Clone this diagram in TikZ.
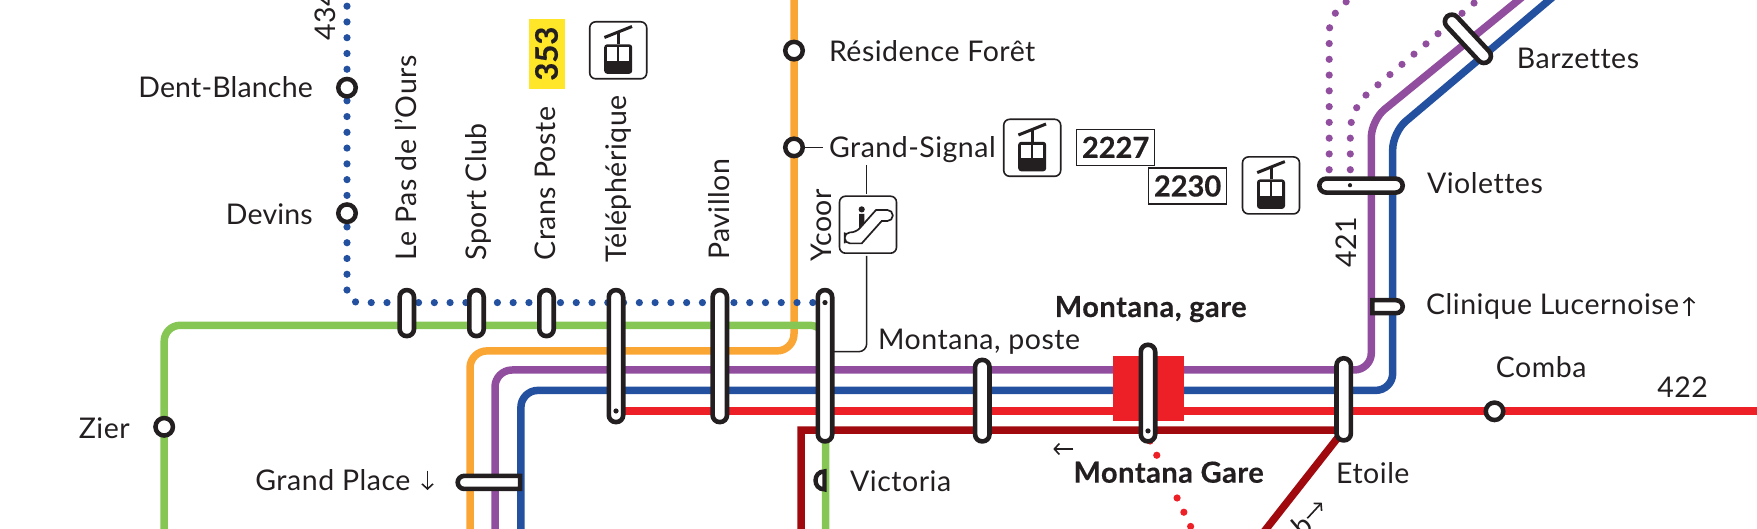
\documentclass[tikz,border=0pt]{standalone}
\usepackage{fontspec}
\setmainfont{Lato}
\newfontfamily\lab{Lato}[LetterSpace=1.8,Ligatures=NoCommon,BoldFeatures={FakeBold=0.3}]
\newfontfamily\labt{Lato}[LetterSpace=0.6,Ligatures=NoCommon]
\newfontfamily\tagf{Lato}[BoldFeatures={FakeBold=0.5}]
\usetikzlibrary{shapes.misc,arrows.meta}
\definecolor{cink}{HTML}{231F20}
\definecolor{corange}{HTML}{FAA634}
\definecolor{cgreen}{HTML}{85C655}
\definecolor{cpurple}{HTML}{914E9E}
\definecolor{cblue}{HTML}{2450A0}
\definecolor{cred}{HTML}{ED2027}
\definecolor{cdark}{HTML}{A00A0F}
\definecolor{cyellow}{HTML}{FFE629}
\pgfdeclarelayer{lines}
\pgfsetlayers{lines,main}
\tikzset{
  route/.style={line width=7.5pt,line join=round},
  dots/.style={line width=7.2pt,line cap=round,dash pattern=on 0pt off 15.77pt},
  leader/.style={line width=1.5pt,draw=cink},
  pill/.style={rectangle,draw=cink,fill=white,line width=4.6pt,rounded corners=7pt,
    minimum width=14.4pt,inner sep=0pt,outer sep=0pt},
  hpill/.style={pill,minimum height=14pt},
  halfpill/.style={rounded rectangle,draw=cink,fill=white,line width=4.6pt,
    minimum height=13pt,inner sep=0pt,outer sep=0pt},
  station/.style={circle,draw=cink,fill=white,line width=4.5pt,minimum size=17.5pt,inner sep=0pt,outer sep=0pt},
  lbl/.style={text=cink,inner sep=0pt,font=\fontsize{28.5}{30}\lab},
  tight lbl/.style={lbl,font=\fontsize{28.5}{30}\labt},
  bold lbl/.style={lbl,font=\fontsize{29}{30}\lab\bfseries},
  iconbox/.style={rectangle,draw=cink,fill=white,line width=1.6pt,rounded corners=6pt,
    minimum size=57pt,inner sep=0pt,outer sep=0pt},
  tagbox/.style={rectangle,draw=cink,fill=white,line width=1.2pt,minimum width=78pt,minimum height=36pt,
    inner sep=0pt,outer sep=0pt,text=cink,font=\fontsize{29}{30}\tagf\bfseries},
  thinarrow/.style={line width=1.6pt,draw=cink,-{Straight Barb[length=5pt,width=11pt]}},
  cabin/.pic={
    \draw[cink,line width=3pt] (-13.8,-12.8) -- (13.8,-23.8);
    \draw[cink,line width=3pt] (0,-18) -- (0,-6);
    \fill[cink,rounded corners=3pt] (-14,-6) rectangle (14,23.5);
    \fill[white] (-11,-3) rectangle (-1.2,10.5);
    \fill[white] (1.2,-3) rectangle (11,10.5);
  },
  escalator/.pic={
    \draw[cink,line width=1.7pt,fill=white]
      [rounded corners=5.4pt] (-23.4,13.2) -- (-23.4,7.7) -- (-12,7.7)
      [sharp corners] -- (8,-14.7) [rounded corners=5.4pt] -- (24.8,-14.7) -- (24.8,-3.7)
      [sharp corners] -- (13.7,-3.7) -- (-6.3,18.7) [rounded corners=5.4pt] -- (-23.4,18.7) -- cycle;
    \fill[cink] (-6.3,-15.3) circle (3.1pt);
    \fill[cink] (-9,-10.7) -- (-3.7,-10.7) -- (-3.7,-2) -- (-9,3.7) -- cycle;
  },
}
\begin{document}
\begin{tikzpicture}[x=1pt,y=-1pt]
\useasboundingbox (0,0) rectangle (1757,529);

% route corners
\coordinate (orTop) at (794,-2);   \coordinate (orC) at (794,350.9);  \coordinate (orL) at (470,350.9); \coordinate (orBot) at (470,533);
\coordinate (grL) at (164.2,533);  \coordinate (grA) at (164.2,325.3); \coordinate (grB) at (825.7,325.3); \coordinate (grBot) at (825.7,533);
\coordinate (puBot) at (495,533);  \coordinate (puA) at (495,370);    \coordinate (puB) at (1371.3,370);  \coordinate (puC) at (1371.3,120.2); \coordinate (puTop) at (1523.5,-4);
\coordinate (blBot) at (520.9,533); \coordinate (blA) at (520.9,390.4); \coordinate (blB) at (1392.7,390.4); \coordinate (blC) at (1392.7,132.3); \coordinate (blTop) at (1554,-4);
\coordinate (reL) at (616,411);    \coordinate (reR) at (1760,411);
\coordinate (daBot) at (801,533);  \coordinate (daA) at (801,430.2);  \coordinate (daB) at (1343.7,430.2); \coordinate (daEnd) at (1263,533);
\coordinate (bdS) at (812.8,302.6); \coordinate (bdC) at (347,302.6); \coordinate (bdTop) at (347,-3);
\coordinate (pdS1) at (1329.2,169.7); \coordinate (pdC1) at (1329.2,17); \coordinate (pdT1) at (1356,-7);
\coordinate (pdS2) at (1350.3,169.7); \coordinate (pdC2) at (1350.3,108.3); \coordinate (pdT2) at (1480,-2);
\coordinate (rdS) at (1150,441);   \coordinate (rdE) at (1197.4,540.7);
\coordinate (gsEnd) at (823,147.4);
\coordinate (escTop) at (866.7,165); \coordinate (escA) at (866.7,194);
\coordinate (escB) at (866.7,256); \coordinate (escC) at (866.7,351.7);

% red block
\node[rectangle,fill=cred,minimum width=70.2pt,minimum height=65pt,inner sep=0pt,outer sep=0pt] (block) at (1148.5,388.5) {};

% stops
\node[pill,minimum height=46pt] (pas) at (406.8,313.1) {};
\node[pill,minimum height=46pt] (sport) at (476.5,313.1) {};
\node[pill,minimum height=46pt] (crans) at (546.5,313.1) {};
\node[pill,minimum height=132pt] (teleph) at (616,356.1) {};
\node[pill,minimum height=132pt] (pav) at (719.8,356.1) {};
\node[pill,minimum height=151.3pt] (ycoor) at (825,365.75) {};
\node[pill,minimum height=81.5pt] (poste) at (982.3,400.65) {};
\node[pill,minimum height=96.6pt] (gare) at (1148,393.1) {};
\node[pill,minimum height=82.1pt] (etoile) at (1343.7,399.35) {};
\node[hpill,minimum width=83.4pt] (viol) at (1361,185.6) {};
\node[hpill,minimum width=61pt,rotate=-47] (barz) at (1467.9,38.8) {};
\node[halfpill,minimum width=30.4pt,rounded rectangle west arc=none] (clin) at (1387.5,306.7) {};
\node[halfpill,minimum width=62.4pt,rounded rectangle east arc=none] (gplace) at (488.9,482.4) {};

\fill[cink] (teleph.center |- reL) circle (2.6pt);
\fill[cink] (825,302.6) circle (2.6pt);
\fill[cink] (1148,430.9) circle (2.6pt);
\fill[cink] (1350,185.2) circle (2.1pt);

% circle stations
\node[station] (zier) at (164.2,426.8) {};
\node[station] (dent) at (347,87.7) {};
\node[station] (dev) at (347,213.2) {};
\node[station] (resid) at (794,50.6) {};
\node[station] (gsig) at (794,147.4) {};
\node[station] (comba) at (1494.5,411.3) {};

% routes
\begin{pgfonlayer}{lines}
\draw[route,corange,rounded corners=17pt] (orTop) -- (orC) -- (orL) -- (orBot);
\draw[route,cgreen,rounded corners=16pt] (grL) -- (grA) -- (grB) -- (grBot);
\draw[route,cpurple,rounded corners=17pt] (puBot) -- (puA) -- (puB) -- (puC) [rounded corners=27pt] -- (puTop);
\draw[route,cblue,rounded corners=17pt] (blBot) -- (blA) -- (blB) -- (blC) [rounded corners=27pt] -- (blTop);
\draw[route,cred] (reL) -- (reR);
\draw[route,cdark,line join=miter] (daBot) -- (daA) -- (daB) -- (daEnd);
\draw[dots,cblue,rounded corners=12pt] (bdS) -- (bdC) -- (bdTop);
\draw[dots,cpurple,rounded corners=15pt] (pdS1) -- (pdC1) -- (pdT1);
\draw[dots,cpurple,rounded corners=22pt] (pdS2) -- (pdC2) -- (pdT2);
\draw[dots,cred] (rdS) -- (rdE);
\draw[leader] (gsig) -- (gsEnd);
\draw[leader] (escTop) -- (escA);
\draw[leader,rounded corners=8pt] (escB) -- (escC) -- (ycoor.east |- escC);
\end{pgfonlayer}

% Victoria half stop
\draw[cink,line width=4.4pt,fill=white] (824.5,471.4) .. controls (812.5,471.4) and (812.5,489.4) .. (824.5,489.4) -- cycle;

% icon boxes
\node[iconbox] (icoA) at (618.2,50.3) {};
\pic at (icoA.center) {cabin};
\node[iconbox] (icoB) at (1032.2,147.8) {};
\pic at (icoB.center) {cabin};
\node[iconbox] (icoC) at (1271,185.4) {};
\pic at (icoC.center) {cabin};
\node[iconbox] (icoE) at (868,224.7) {};
\pic at (icoE.center) {escalator};

% number tags
\node[rectangle,fill=cyellow,minimum width=36pt,minimum height=70.1pt,inner sep=0pt,outer sep=0pt] (t353) at (546.5,53.65) {};
\node[rotate=90,text=cink,inner sep=0pt,font=\fontsize{31}{32}\tagf\bfseries] (n353) at (546.5,53.65) {353};
\node[tagbox] (t2227) at (1115.6,147.3) {2227};
\node[tagbox] (t2230) at (1187.6,186) {2230};

% horizontal labels
\node[tight lbl,anchor=base east] (lDent) at (313,97.8) {Dent-Blanche};
\node[tight lbl,anchor=base east] (lDev) at (313,224.4) {Devins};
\node[lbl,anchor=base east] (lZier) at (130,438) {Zier};
\node[lbl,anchor=base east] (lGP) at (410.6,490) {Grand Place};
\node[lbl,anchor=base west] (lRes) at (828.8,61.8) {Résidence Forêt};
\node[lbl,anchor=base west] (lGS) at (828.8,157.6) {Grand-Signal};
\node[lbl,anchor=base west] (lPoste) at (878,349.6) {Montana, poste};
\node[bold lbl,anchor=base west] (lGareA) at (1054.6,317) {Montana, gare};
\node[bold lbl,anchor=base west,fill=white,text depth=6pt] (lGareB) at (1073.3,482.7) {Montana Gare};
\node[lbl,anchor=base west] (lVic) at (850,491) {Victoria};
\node[lbl,anchor=base west] (lEt) at (1336,483.5) {Etoile};
\node[lbl,anchor=base west] (lBar) at (1516.7,69) {Barzettes};
\node[lbl,anchor=base west] (lVio) at (1426.8,193.5) {Violettes};
\node[lbl,anchor=base west] (lCl) at (1426,314.5) {Clinique Lucernoise};
\node[lbl,anchor=base west] (lCo) at (1495.7,377.2) {Comba};
\node[lbl,anchor=base west] (l422) at (1657.2,397) {422};

% rotated labels
\node[lbl,anchor=base west,rotate=90] (l434) at (335,40.5) {434};
\node[lbl,anchor=base west,rotate=90] (lPas) at (416.4,260.5) {Le Pas de l’Ours};
\node[lbl,anchor=base west,rotate=90] (lSp) at (486,260.5) {Sport Club};
\node[lbl,anchor=base west,rotate=90] (lCr) at (555.7,260.5) {Crans Poste};
\node[lbl,anchor=base west,rotate=90] (lTe) at (626,262.5) {Téléphérique};
\node[lbl,anchor=base west,rotate=90] (lPa) at (729.4,260) {Pavillon};
\node[lbl,anchor=base west,rotate=90] (lYc) at (831.5,262) {Ycoor};
\node[lbl,anchor=base west,rotate=90] (l421) at (1356.8,267.6) {421};
\node[lbl,anchor=base west,rotate=40] (lB) at (1302,539) {b};

% small arrows
\coordinate (aGPa) at (427.5,470.7); \coordinate (aGPb) at (427.5,490);
\coordinate (aCLa) at (1689,316.5);  \coordinate (aCLb) at (1689,297);
\coordinate (aLa) at (1073.3,449);   \coordinate (aLb) at (1053.3,449);
\coordinate (aDa) at (1307.3,518.3); \coordinate (aDb) at (1321.7,502.7);
\draw[thinarrow] (aGPa) -- (aGPb);
\draw[thinarrow] (aCLa) -- (aCLb);
\draw[thinarrow] (aLa) -- (aLb);
\draw[thinarrow] (aDa) -- (aDb);
\end{tikzpicture}
\end{document}
